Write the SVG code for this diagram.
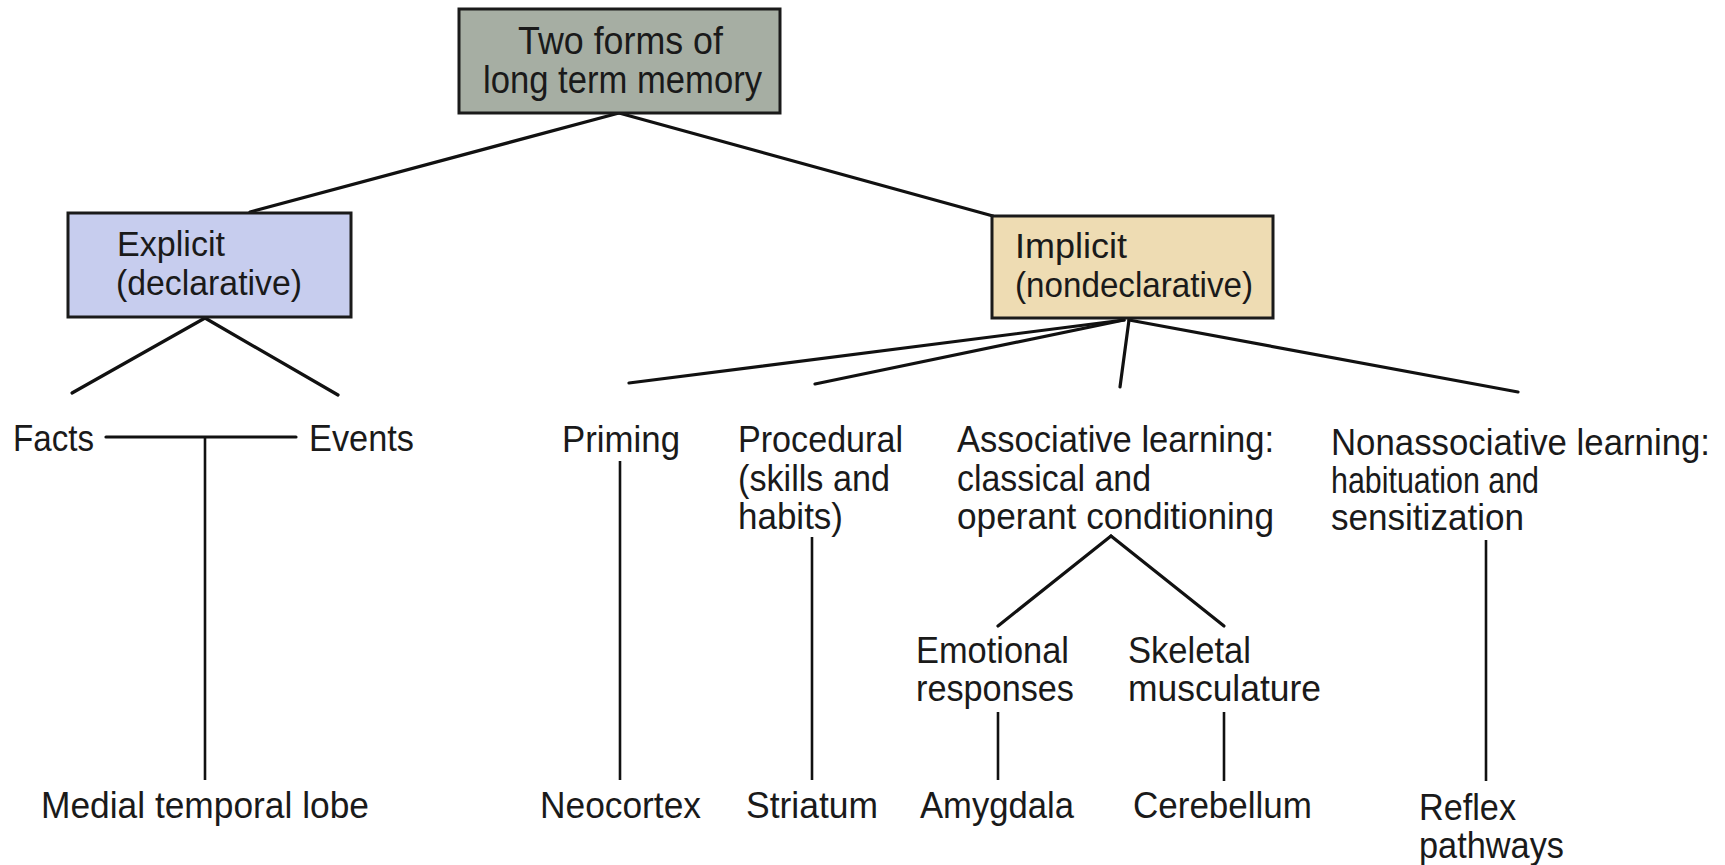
<svg xmlns="http://www.w3.org/2000/svg" width="1725" height="865" viewBox="0 0 1725 865">
<style>
.t{font-family:"Liberation Sans",Arial,sans-serif;font-size:37px;fill:#1a1a1a}
.tn{font-family:"Liberation Sans",Arial,sans-serif;font-size:36px;fill:#1a1a1a}
.tb{font-family:"Liberation Sans",Arial,sans-serif;font-size:35px;fill:#1a1a1a}
.tt{font-family:"Liberation Sans",Arial,sans-serif;font-size:39px;fill:#1a1a1a}
.box{stroke:#1a1a1a;stroke-width:3}
.c{stroke:#111;stroke-width:3.2;fill:none;stroke-linecap:round}
.v{stroke:#111;stroke-width:2.6;fill:none}
</style>
<rect width="1725" height="865" fill="#fff"/>
<g id="connectors">
<line class="c" x1="619" y1="113" x2="250" y2="212"/>
<line class="c" x1="619" y1="113" x2="993" y2="216"/>
<line class="c" x1="205" y1="318" x2="72" y2="393"/>
<line class="c" x1="205" y1="318" x2="338" y2="395"/>
<line class="c" x1="106" y1="437" x2="296" y2="437"/>
<line class="v" x1="205" y1="437" x2="205" y2="780"/>
<line class="c" x1="1124" y1="320" x2="629" y2="383"/>
<line class="c" x1="1124" y1="320" x2="815" y2="384"/>
<line class="c" x1="1129" y1="320" x2="1120" y2="387"/>
<line class="c" x1="1129" y1="320" x2="1518" y2="392"/>
<line class="v" x1="620" y1="461" x2="620" y2="780"/>
<line class="v" x1="812" y1="537" x2="812" y2="780"/>
<line class="c" x1="1111" y1="536" x2="998" y2="626"/>
<line class="c" x1="1111" y1="536" x2="1224" y2="626"/>
<line class="v" x1="998" y1="712" x2="998" y2="780"/>
<line class="v" x1="1224" y1="712" x2="1224" y2="781"/>
<line class="v" x1="1486" y1="540" x2="1486" y2="781"/>
</g>
<g id="root">
<rect class="box" x="459" y="9" width="321" height="104" fill="#a6aea3"/>
<text class="tt" x="518" y="54" textLength="205" lengthAdjust="spacingAndGlyphs">Two forms of</text>
<text class="tt" x="483" y="93" textLength="279" lengthAdjust="spacingAndGlyphs">long term memory</text>
</g>
<g id="explicit">
<rect class="box" x="68" y="213" width="283" height="104" fill="#c7cdee"/>
<text class="tb" x="117" y="256" textLength="108" lengthAdjust="spacingAndGlyphs">Explicit</text>
<text class="tb" x="116" y="295" textLength="186" lengthAdjust="spacingAndGlyphs">(declarative)</text>
</g>
<g id="implicit">
<rect class="box" x="992" y="216" width="281" height="102" fill="#eedcb3"/>
<text class="tb" x="1015" y="258" textLength="112" lengthAdjust="spacingAndGlyphs">Implicit</text>
<text class="tb" x="1015" y="297" textLength="238" lengthAdjust="spacingAndGlyphs">(nondeclarative)</text>
</g>
<g id="facts"><text class="t" x="13" y="451" textLength="81" lengthAdjust="spacingAndGlyphs">Facts</text></g>
<g id="events"><text class="t" x="309" y="451" textLength="105" lengthAdjust="spacingAndGlyphs">Events</text></g>
<g id="priming"><text class="t" x="562" y="452" textLength="118" lengthAdjust="spacingAndGlyphs">Priming</text></g>
<g id="procedural">
<text class="t" x="738" y="452" textLength="165" lengthAdjust="spacingAndGlyphs">Procedural</text>
<text class="t" x="738" y="491" textLength="152" lengthAdjust="spacingAndGlyphs">(skills and</text>
<text class="t" x="738" y="529" textLength="105" lengthAdjust="spacingAndGlyphs">habits)</text>
</g>
<g id="associative">
<text class="t" x="957" y="452" textLength="317" lengthAdjust="spacingAndGlyphs">Associative learning:</text>
<text class="t" x="957" y="491" textLength="194" lengthAdjust="spacingAndGlyphs">classical and</text>
<text class="t" x="957" y="529" textLength="317" lengthAdjust="spacingAndGlyphs">operant conditioning</text>
</g>
<g id="nonassociative">
<text class="tn" x="1331" y="455" textLength="379" lengthAdjust="spacingAndGlyphs">Nonassociative learning:</text>
<text class="tn" x="1331" y="493" textLength="208" lengthAdjust="spacingAndGlyphs">habituation and</text>
<text class="tn" x="1331" y="530" textLength="193" lengthAdjust="spacingAndGlyphs">sensitization</text>
</g>
<g id="emotional">
<text class="t" x="916" y="663" textLength="153" lengthAdjust="spacingAndGlyphs">Emotional</text>
<text class="t" x="916" y="701" textLength="158" lengthAdjust="spacingAndGlyphs">responses</text>
</g>
<g id="skeletal">
<text class="t" x="1128" y="663" textLength="123" lengthAdjust="spacingAndGlyphs">Skeletal</text>
<text class="t" x="1128" y="701" textLength="193" lengthAdjust="spacingAndGlyphs">musculature</text>
</g>
<g id="medial"><text class="t" x="41" y="818" textLength="328" lengthAdjust="spacingAndGlyphs">Medial temporal lobe</text></g>
<g id="neocortex"><text class="t" x="540" y="818" textLength="161" lengthAdjust="spacingAndGlyphs">Neocortex</text></g>
<g id="striatum"><text class="t" x="746" y="818" textLength="132" lengthAdjust="spacingAndGlyphs">Striatum</text></g>
<g id="amygdala"><text class="t" x="920" y="818" textLength="154" lengthAdjust="spacingAndGlyphs">Amygdala</text></g>
<g id="cerebellum"><text class="t" x="1133" y="818" textLength="179" lengthAdjust="spacingAndGlyphs">Cerebellum</text></g>
<g id="reflex">
<text class="t" x="1419" y="820" textLength="97" lengthAdjust="spacingAndGlyphs">Reflex</text>
<text class="t" x="1419" y="858" textLength="145" lengthAdjust="spacingAndGlyphs">pathways</text>
</g>
</svg>
